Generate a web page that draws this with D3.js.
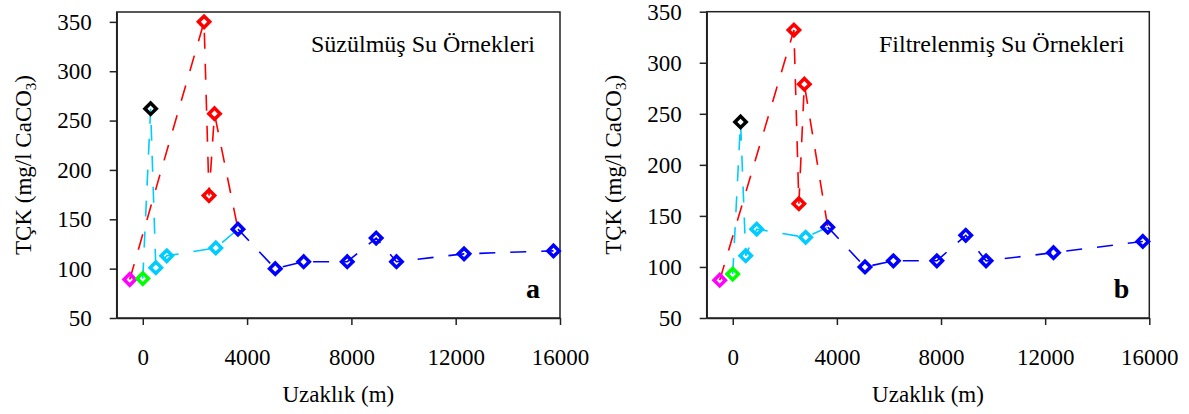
<!DOCTYPE html>
<html>
<head>
<meta charset="utf-8">
<script src="https://cdn.jsdelivr.net/npm/d3@7"></script>
<style>
  html, body { margin: 0; padding: 0; background: #fff; }
  svg { display: block; }
</style>
</head>
<body>
<svg id="chart" width="1189" height="414"></svg>
<script>
// Sampling station groups: distance along the stream (m)
const springDist   = [-500];
const sourceDist   = [0];
const tributaryDist = [300];
const upperDist    = [500, 920, 2800];
const plantDist    = [2350, 2540, 2750];
const mainDist     = [3650, 5080, 6170, 7840, 8950, 9730, 12320, 15750];

// Total hardness (TÇK, mg/l CaCO3) – filtered water samples (panel a)
const springA    = [89];
const sourceA    = [90];
const tributaryA = [262];
const upperA     = [101, 113, 121];
const plantA     = [350, 174, 257];
const mainA      = [140, 100, 107, 107, 131, 107, 115, 118];

// Total hardness – filtration samples (panel b)
const springB    = [87];
const sourceB    = [93];
const tributaryB = [242];
const upperB     = [111, 137, 129];
const plantB     = [332, 162, 279];
const mainB      = [139, 100, 106, 106, 131, 106, 114, 125];

const xTicks = [0, 4000, 8000, 12000, 16000];
const yTicks = [50, 100, 150, 200, 250, 300, 350];
const xTitle = "Uzaklık (m)";
const panelTitles = ["Süzülmüş Su Örnekleri", "Filtrelenmiş Su Örnekleri"];
const panelLetters = ["a", "b"];

const colors = {
  spring: "#ff00ff", source: "#00ff00", tributary: "#000000",
  upper: "#00ccff", plant: "#ff0000", main: "#0000ff"
};
const serif = '"Liberation Serif"';

function zip(xs, ys) { return xs.map((x, i) => ({ x, y: ys[i] })); }

function buildPanel(v) {
  const g = {
    spring: zip(springDist, v[0]),
    source: zip(sourceDist, v[1]),
    tributary: zip(tributaryDist, v[2]),
    upper: zip(upperDist, v[3]),
    plant: zip(plantDist, v[4]),
    main: zip(mainDist, v[5])
  };
  const byX = (a, b) => a.x - b.x;
  return {
    groups: g,
    lines: [
      { color: colors.plant, pts: [...g.spring, ...g.plant, g.main[0]].sort(byX) },
      { color: colors.upper, pts: [...g.source, ...g.tributary, ...g.upper, g.main[0]].sort(byX) },
      { color: colors.main, pts: g.main.slice().sort(byX) }
    ]
  };
}

const panels = [
  { data: buildPanel([springA, sourceA, tributaryA, upperA, plantA, mainA]),
    left: 116.7, right: 560, top: 12, bottom: 318, yMax: 360 },
  { data: buildPanel([springB, sourceB, tributaryB, upperB, plantB, mainB]),
    left: 706.7, right: 1149.3, top: 11.7, bottom: 318, yMax: 350 }
];

const svg = d3.select("#chart");

panels.forEach((p, i) => {
  const x = d3.scaleLinear().domain([-1000, 16000]).range([p.left, p.right]);
  const y = d3.scaleLinear().domain([50, p.yMax]).range([p.bottom, p.top]);
  const root = svg.append("g");

  // plot frame
  root.append("rect")
    .attr("x", p.left).attr("y", p.top)
    .attr("width", p.right - p.left).attr("height", p.bottom - p.top)
    .attr("fill", "none").attr("stroke", "#222").attr("stroke-width", 1.5);

  // axes
  root.append("g")
    .attr("transform", `translate(0,${p.bottom})`)
    .call(d3.axisBottom(x).tickValues(xTicks).tickFormat(d3.format("d")).tickSize(7).tickSizeOuter(0))
    .call(a => a.select(".domain").attr("stroke", "#222").attr("stroke-width", 1.5))
    .call(a => a.selectAll(".tick line").attr("stroke", "#222").attr("stroke-width", 1.5))
    .call(a => a.selectAll("text").attr("y", 47).attr("dy", 0)
      .attr("font-size", 23).style("font-family", serif).attr("fill", "#000"));

  root.append("g")
    .attr("transform", `translate(${p.left},0)`)
    .call(d3.axisLeft(y).tickValues(yTicks).tickFormat(d3.format("d")).tickSize(7).tickPadding(18).tickSizeOuter(0))
    .call(a => a.select(".domain").attr("stroke", "#222").attr("stroke-width", 1.5))
    .call(a => a.selectAll(".tick line").attr("stroke", "#222").attr("stroke-width", 1.5))
    .call(a => a.selectAll("text").attr("font-size", 23)
      .style("font-family", serif).attr("fill", "#000"));

  // axis titles
  root.append("text")
    .attr("x", (p.left + p.right) / 2).attr("y", 402)
    .attr("text-anchor", "middle").attr("font-size", 23)
    .style("font-family", serif)
    .text(xTitle);

  const yt = root.append("text")
    .attr("transform", `translate(${p.left - 86},${(p.top + p.bottom) / 2}) rotate(-90)`)
    .attr("text-anchor", "middle").attr("font-size", 23)
    .style("font-family", serif);
  yt.append("tspan").text("TÇK (mg/l CaCO");
  yt.append("tspan").attr("font-size", 15).attr("dy", 5).text("3");
  yt.append("tspan").attr("dy", -5).text(")");

  // panel title and letter
  root.append("text")
    .attr("x", p.right - 25).attr("y", 52)
    .attr("text-anchor", "end").attr("font-size", 24)
    .style("font-family", serif)
    .text(panelTitles[i]);
  root.append("text")
    .attr("x", p.right - 20).attr("y", 298)
    .attr("text-anchor", "end").attr("font-size", 28).attr("font-weight", "bold")
    .style("font-family", serif)
    .text(panelLetters[i]);

  // dashed connecting lines
  const line = d3.line().x(d => x(d.x)).y(d => y(d.y));
  root.selectAll("path.series")
    .data(p.data.lines)
    .join("path")
    .attr("class", "series")
    .attr("d", d => line(d.pts))
    .attr("fill", "none")
    .attr("stroke", d => d.color)
    .attr("stroke-width", 1.6)
    .attr("stroke-dasharray", "16,15");

  // hollow diamond markers
  const diamond = d3.symbol().type(d3.symbolSquare).size(64);
  Object.entries(p.data.groups).forEach(([key, pts]) => {
    root.selectAll(null)
      .data(pts)
      .join("path")
      .attr("d", diamond)
      .attr("transform", d => `translate(${x(d.x)},${y(d.y)}) rotate(45)`)
      .attr("fill", "none")
      .attr("stroke", colors[key])
      .attr("stroke-width", 3.5);
  });
});
</script>
</body>
</html>
